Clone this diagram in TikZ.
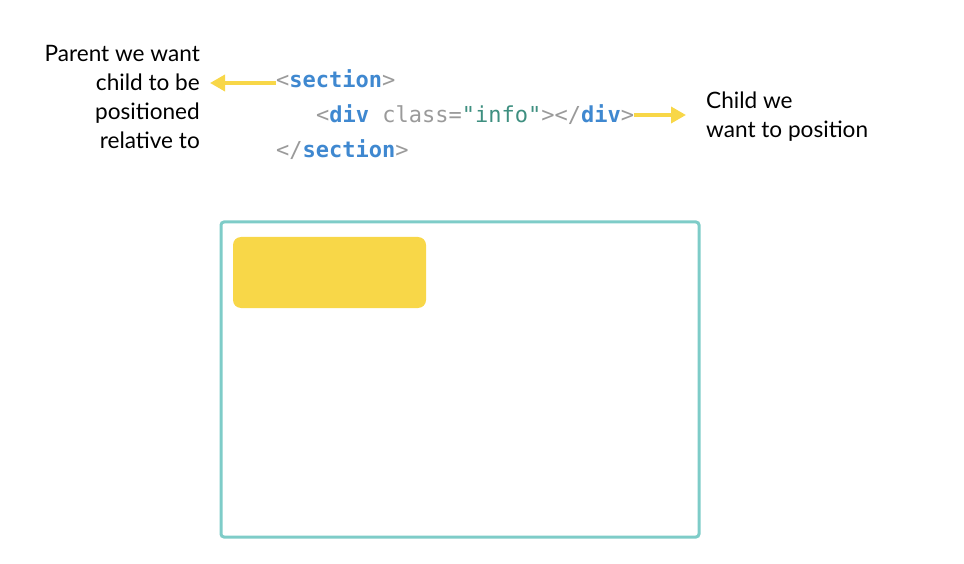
\documentclass[tikz,border=0pt]{standalone}
\usepackage{fontspec}
\setmainfont{Lato}
\setmonofont{DejaVu Sans Mono}
\usetikzlibrary{arrows.meta}
\definecolor{tagblue}{HTML}{3F88D0}
\definecolor{codegray}{HTML}{9A9A9A}
\definecolor{strgreen}{HTML}{3E8F80}
\definecolor{hlyellow}{HTML}{F8D748}
\definecolor{boxteal}{HTML}{7ECCC8}
\newcommand{\tg}[1]{\textcolor{tagblue}{\textbf{#1}}}
\newcommand{\gr}[1]{\textcolor{codegray}{#1}}
\tikzset{
  note/.style={font=\fontsize{22.6}{29}\selectfont, inner sep=0pt},
  code/.style={font=\ttfamily\fontsize{22}{25}\selectfont, inner sep=0pt, anchor=west},
  pointer/.style={hlyellow, line width=3.5pt, -{Triangle[length=15pt, width=16pt]}}
}
\begin{document}
\begin{tikzpicture}[x=1pt, y=-1pt]
      \useasboundingbox (0,0) rectangle (964,564);
      %left note
      \node[note, align=right, anchor=east] (parent) at (200, 97) {Parent we want\\child to be\\positioned\\relative to};
      %code lines
      \node[code] (sect) at (276, 79) {\gr{<}\tg{section}\gr{>}};
      \node[code] (div) at (316, 115) {\gr{<}\tg{div} \gr{class=}\textcolor{strgreen}{"info"}\gr{></}\tg{div}\gr{>}};
      \node[code] (endsect) at (276, 150) {\gr{</}\tg{section}\gr{>}};
      %right note
      \node[note, align=left, anchor=west] (child) at (706, 117) {Child we\\want to position};
      %arrows
      \coordinate (ptip) at (210, 83);
      \coordinate (ctip) at (686, 115);
      \draw [pointer] (sect.west |- ptip) -- (ptip);
      \draw [pointer] (div.east) -- (ctip);
      %boxes
      \draw [boxteal, line width=3pt, rounded corners=3pt] (221, 222) rectangle (699, 537) coordinate (outer);
      \fill [hlyellow, rounded corners=8pt] (233, 237) rectangle (426, 308) coordinate (inner);
\end{tikzpicture}
\end{document}
